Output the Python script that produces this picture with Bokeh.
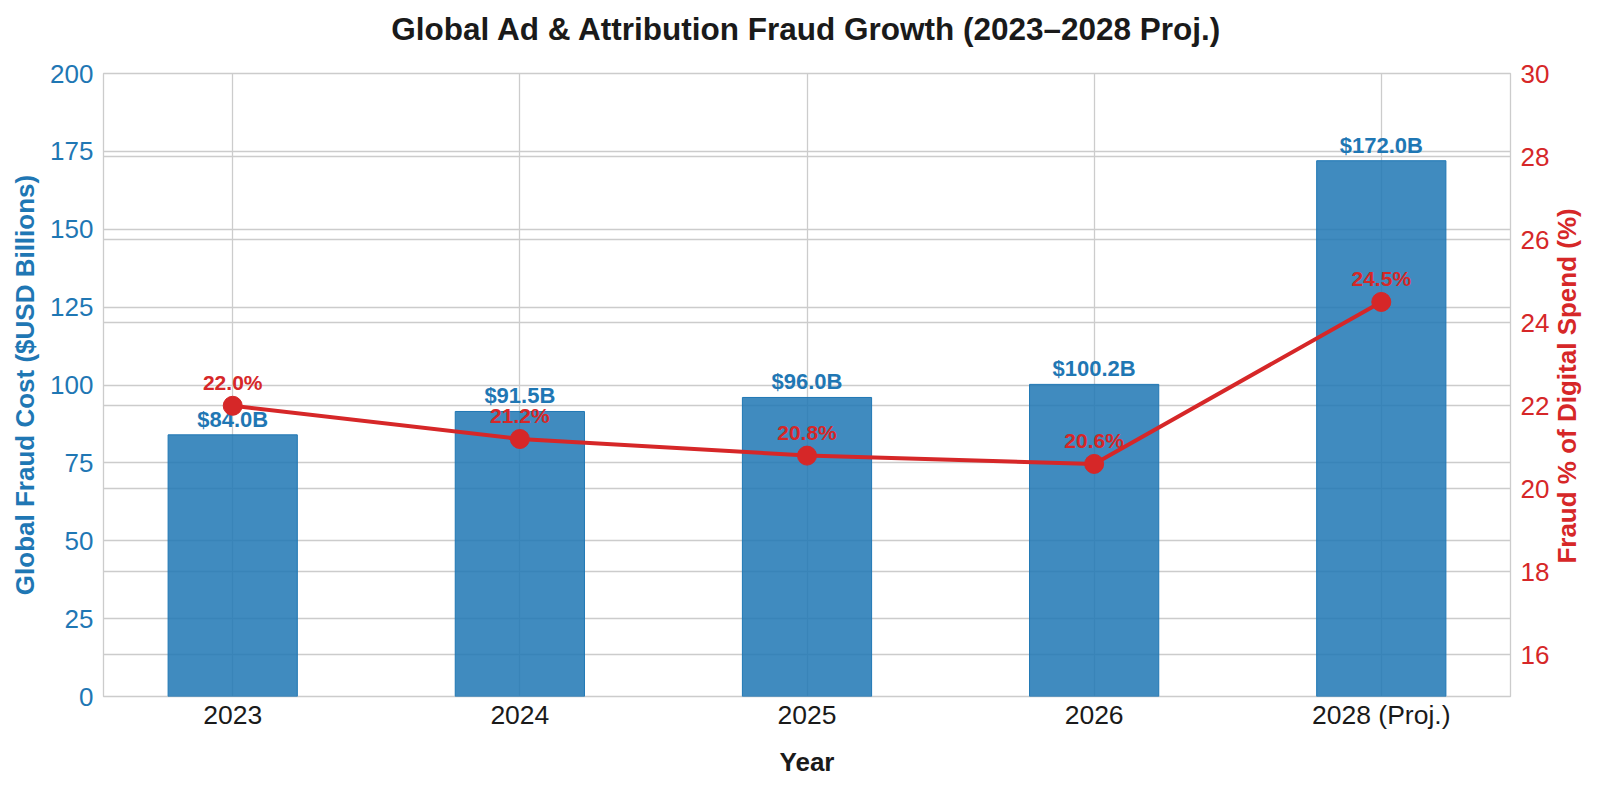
import math
from bokeh.plotting import figure
from bokeh.models import Range1d, LinearAxis, FixedTicker, Grid, ColumnDataSource, Title
from bokeh.core.properties import value
from bokeh.embed import file_html
from bokeh.resources import INLINE

# ---- data ----
years = ["2023", "2024", "2025", "2026", "2028 (Proj.)"]
fraud_cost = [84.0, 91.5, 96.0, 100.2, 172.0]          # $USD billions
fraud_pct = [22.0, 21.2, 20.8, 20.6, 24.5]             # % of digital spend
cost_labels = ["$84.0B", "$91.5B", "$96.0B", "$100.2B", "$172.0B"]
pct_labels = ["22.0%", "21.2%", "20.8%", "20.6%", "24.5%"]
left_ticks = [0, 25, 50, 75, 100, 125, 150, 175, 200]
right_ticks = [16, 18, 20, 22, 24, 26, 28, 30]
title_text = "Global Ad & Attribution Fraud Growth (2023\u20132028 Proj.)"
right_label = "Fraud % of Digital Spend (%)"

FONT = "Liberation Sans"
BLUE = "#1f77b4"
RED = "#d62728"
GRID = "#cccccc"

# where (in right-axis units) the rotated right title starts, so that it is centred
RIGHT_LABEL_START = 18.2

xpos = list(range(len(years)))
src = ColumnDataSource(dict(x=xpos, cost=fraud_cost, pct=fraud_pct,
                            cl=cost_labels, pl=pct_labels))

p = figure(width=1600, height=784,
           x_range=Range1d(-0.45, len(years) - 1 + 0.45),
           y_range=Range1d(0, 200),
           output_backend="svg", toolbar_location=None,
           min_border_left=103, min_border_right=86,
           min_border_top=73, min_border_bottom=88)
p.extra_y_ranges = {"pct": Range1d(15, 30)}

p.background_fill_color = "white"
p.border_fill_color = "white"
p.outline_line_color = GRID
p.outline_line_width = 1.3

# title: a spacer panel next to the frame, then the real title above it
p.add_layout(Title(text=" ", text_font_size="2px", standoff=23), "above")
p.add_layout(Title(text=title_text, align="center", standoff=0,
                   text_font=FONT, text_font_size="31.5px", text_font_style="bold",
                   text_color="#1a1a1a"), "above")

# axes
def style_axis(ax, color, label_color):
    ax.axis_line_color = None
    ax.major_tick_line_color = None
    ax.minor_tick_line_color = None
    ax.major_label_text_font = FONT
    ax.major_label_text_font_size = "26px"
    ax.major_label_text_color = color
    ax.axis_label_text_font = FONT
    ax.axis_label_text_font_size = "26px"
    ax.axis_label_text_font_style = "bold"
    ax.axis_label_text_color = label_color

xa = p.xaxis[0]
style_axis(xa, "#1a1a1a", "#1a1a1a")
xa.major_label_text_font_size = "26.5px"
xa.ticker = FixedTicker(ticks=xpos)
xa.major_label_overrides = {i: y for i, y in zip(xpos, years)}
xa.axis_label = "Year"
xa.major_label_standoff = -3
xa.axis_label_standoff = 14

ya = p.yaxis[0]
style_axis(ya, BLUE, BLUE)
ya.ticker = FixedTicker(ticks=left_ticks)
ya.axis_label = "Global Fraud Cost ($USD Billions)"
ya.major_label_standoff = 4
ya.axis_label_standoff = 7

ra = LinearAxis(y_range_name="pct", ticker=FixedTicker(ticks=right_ticks))
style_axis(ra, RED, RED)
ra.major_label_standoff = 4
p.add_layout(ra, "right")

# right-axis title, reading bottom-to-top like the left one
ra2 = LinearAxis(y_range_name="pct", ticker=FixedTicker(ticks=[RIGHT_LABEL_START]),
                 major_label_overrides={RIGHT_LABEL_START: right_label},
                 major_label_orientation=math.pi / 2)
style_axis(ra2, RED, RED)
ra2.major_label_text_font_style = "bold"
ra2.major_label_standoff = 9
p.add_layout(ra2, "right")

# grids
p.xgrid.ticker = FixedTicker(ticks=xpos)
p.xgrid.grid_line_color = GRID
p.xgrid.grid_line_width = 1.3
p.ygrid.grid_line_color = GRID
p.ygrid.grid_line_width = 1.3
p.ygrid.ticker = FixedTicker(ticks=left_ticks)
rgrid = Grid(dimension=1, y_range_name="pct", ticker=FixedTicker(ticks=right_ticks),
             grid_line_color=GRID, grid_line_width=1.3)
p.add_layout(rgrid)

# bars
p.vbar(x="x", top="cost", width=0.45, source=src,
       fill_color=BLUE, fill_alpha=0.85, line_color=BLUE, line_width=1)

# bar labels
p.text(x="x", y="cost", text="cl", source=src,
       text_align="center", text_baseline="alphabetic", y_offset=-15.5,
       text_font=value(FONT), text_font_style="bold", text_font_size="22px",
       text_color=BLUE)

# line + markers
p.line(x="x", y="pct", source=src, y_range_name="pct",
       line_color=RED, line_width=4)
p.scatter(x="x", y="pct", source=src, y_range_name="pct",
          size=19, fill_color=RED, line_color=RED)

# pct labels
p.text(x="x", y="pct", text="pl", source=src, y_range_name="pct",
       text_align="center", text_baseline="alphabetic", y_offset=-23,
       text_font=value(FONT), text_font_style="bold", text_font_size="21px",
       text_color=RED)

open("out.html", "w").write(file_html(p, INLINE))
